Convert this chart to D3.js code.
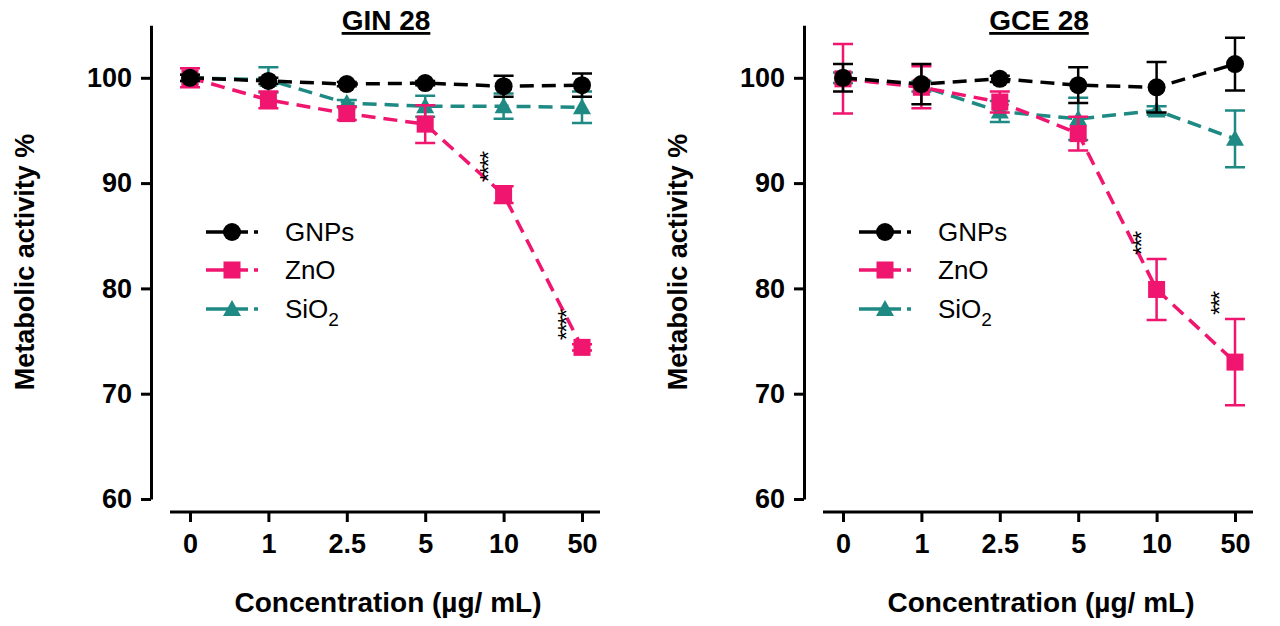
<!DOCTYPE html><html><head><meta charset="utf-8"><script src="https://cdn.jsdelivr.net/npm/d3@7"></script>
<style>body{margin:0;background:#fff}text{font-family:Arial,"Liberation Sans",sans-serif}</style></head><body>
<svg id="c" width="1280" height="626"></svg>
<script>
const concentrations = ["0","1","2.5","5","10","50"];
const yTicks = [60,70,80,90,100];
const ginGNPs = [100,99.7,99.4,99.5,99.2,99.3], ginGNPsErr=[0.3,0.3,0.2,0.2,1.0,1.1];
const ginZnO = [100,97.9,96.6,95.6,88.9,74.4], ginZnOErr=[0.9,0.8,0.6,1.8,0.8,0.3];
const ginSiO2 = [100,99.8,97.6,97.3,97.3,97.2], ginSiO2Err=[0.3,1.2,0.3,1.0,1.2,1.5];
const gceGNPs = [100,99.4,99.9,99.3,99.1,101.3], gceGNPsErr=[1.3,1.9,0.3,1.7,2.4,2.5];
const gceZnO = [99.9,99.1,97.7,94.7,79.9,73.0], gceZnOErr=[3.3,2.0,1.0,1.6,2.9,4.1];
const gceSiO2 = [100,99.2,96.8,96.1,96.9,94.2], gceSiO2Err=[0.5,0.5,1.0,2.0,0.4,2.7];
const ginStars = [null,null,null,null,"****","****"];
const gceStars = [null,null,null,null,"***","***"];
const colors = {GNPs:"#000",ZnO:"#f0156e",SiO2:"#1f8a84"};
const svg = d3.select("#c");
function panel(ox, title, series, stars){
  const g = svg.append("g").attr("transform",`translate(${ox},0)`);
  const y = d3.scaleLinear().domain([60,105]).range([499, 499-45*10.53]);
  const x = d3.scalePoint().domain(concentrations).range([190,582]);
  const yA = g.append("g").attr("transform","translate(151,0)").call(d3.axisLeft(y).tickValues(yTicks).tickSize(10).tickSizeOuter(0));
  const xA = g.append("g").attr("transform","translate(0,512)").call(d3.axisBottom(x).tickSize(10).tickSizeOuter(0));
  xA.select(".domain").attr("d",`M170,0H600`);
  [yA,xA].forEach(a=>{a.selectAll("path,line").attr("stroke","#000").attr("stroke-width",3);
    a.selectAll("text").attr("font-size",27).attr("font-weight","bold").attr("fill","#000");});
  yA.selectAll("text").attr("dx",-6); xA.selectAll("text").attr("dy",28);
  g.append("text").attr("x",386).attr("y",30).attr("text-anchor","middle").attr("font-size",28).attr("font-weight","bold").attr("text-decoration","underline").text(title);
  g.append("text").attr("transform","translate(34,262) rotate(-90)").attr("text-anchor","middle").attr("font-size",27).attr("font-weight","bold").text("Metabolic activity %");
  g.append("text").attr("x",388).attr("y",612).attr("text-anchor","middle").attr("font-size",28).attr("font-weight","bold").text("Concentration (µg/ mL)");
  const line = d3.line().x((d,i)=>x(concentrations[i])).y(d=>y(d));
  function marker(sel,name,cx,cy,s){
    if(name==="GNPs") sel.append("circle").attr("cx",cx).attr("cy",cy).attr("r",9*s).attr("fill",colors[name]);
    else if(name==="ZnO") sel.append("rect").attr("x",cx-8.5*s).attr("y",cy-8.5*s).attr("width",17*s).attr("height",17*s).attr("fill",colors[name]);
    else sel.append("path").attr("d",`M${cx},${cy-9*s}L${cx+9*s},${cy+7*s}L${cx-9*s},${cy+7*s}Z`).attr("fill",colors[name]);
  }
  ["SiO2","ZnO","GNPs"].forEach(name=>{
    const s = series[name];
    const c = colors[name];
    g.append("path").attr("d",line(s.v)).attr("fill","none").attr("stroke",c).attr("stroke-width",3.5).attr("stroke-dasharray","14,8");
    s.v.forEach((v,i)=>{
      const cx=x(concentrations[i]);
      const e=s.e[i];
      g.append("path").attr("d",`M${cx},${y(v-e)}V${y(v+e)}M${cx-10},${y(v-e)}H${cx+10}M${cx-10},${y(v+e)}H${cx+10}`).attr("stroke",c).attr("stroke-width",2.5).attr("fill","none");
      marker(g,name,cx,y(v),1);
    });
  });
  stars.forEach((st,i)=>{ if(!st) return;
    const cx=x(concentrations[i]);
    const bottom=y(series.ZnO.v[i]+series.ZnO.e[i])-4;
    g.append("text").attr("transform",`translate(${cx-7},${bottom}) rotate(-90)`).attr("font-size",24).attr("letter-spacing",-2).text(st);
  });
  const lg=[["GNPs","GNPs",232],["ZnO","ZnO",270],["SiO2","SiO",309]];
  lg.forEach(([name,lab,ly])=>{
    g.append("path").attr("d",`M206,${ly}H258`).attr("stroke",colors[name]).attr("stroke-width",3.5).attr("stroke-dasharray","22,6,14,6");
    marker(g,name,232,ly,1);
    const t=g.append("text").attr("x",285).attr("y",ly+9).attr("font-size",26).text(lab);
    if(name==="SiO2") t.append("tspan").attr("font-size",19).attr("dy",8).text("2");
  });
}
panel(0,"GIN 28",{GNPs:{v:ginGNPs,e:ginGNPsErr},ZnO:{v:ginZnO,e:ginZnOErr},SiO2:{v:ginSiO2,e:ginSiO2Err}},ginStars);
panel(653,"GCE 28",{GNPs:{v:gceGNPs,e:gceGNPsErr},ZnO:{v:gceZnO,e:gceZnOErr},SiO2:{v:gceSiO2,e:gceSiO2Err}},gceStars);
</script></body></html>
